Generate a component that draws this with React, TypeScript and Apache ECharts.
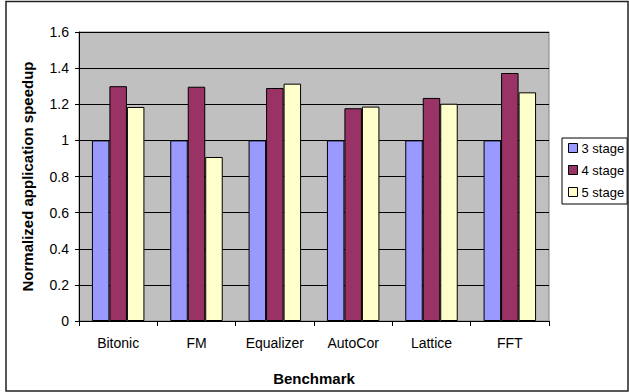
import React, { useEffect, useRef } from "react";
import * as echarts from "echarts";

const benchmarks = ["Bitonic", "FM", "Equalizer", "AutoCor", "Lattice", "FFT"];
const stage3 = [1, 1, 1, 1, 1, 1];
const stage4 = [1.3, 1.297, 1.29, 1.178, 1.235, 1.373];
const stage5 = [1.185, 0.908, 1.314, 1.187, 1.203, 1.266];
const seriesNames = ["3 stage", "4 stage", "5 stage"];
const seriesColors = ["#9999FF", "#993366", "#FFFFCC"];

const FONT = "'Liberation Sans', Arial, sans-serif";

export default function App() {
  const ref = useRef<HTMLDivElement>(null);

  useEffect(() => {
    if (!ref.current) return;
    const chart = echarts.init(ref.current, undefined, { renderer: "svg" });
    const data = [stage3, stage4, stage5];
    chart.setOption({
      animation: false,
      backgroundColor: "#ffffff",
      textStyle: { fontFamily: FONT, color: "#000" },
      grid: {
        left: 79,
        right: 80,
        top: 32,
        bottom: 71,
        show: true,
        backgroundColor: "#C0C0C0",
        borderColor: "#808080",
        borderWidth: 1,
      },
      legend: {
        orient: "vertical",
        left: 562,
        top: 138,
        padding: [3, 3, 5, 6],
        itemWidth: 9,
        itemHeight: 9,
        itemGap: 8,
        backgroundColor: "#ffffff",
        borderColor: "#000000",
        borderWidth: 1,
        borderRadius: 0,
        icon: "rect",
        itemStyle: { borderColor: "#000", borderWidth: 1 },
        textStyle: {
          fontFamily: FONT,
          fontSize: 13,
          color: "#000",
          padding: [0, 0, 0, -1],
          lineHeight: 14,
        },
        data: seriesNames,
      },
      xAxis: {
        type: "category",
        data: benchmarks,
        name: "Benchmark",
        nameLocation: "middle",
        nameGap: 50,
        nameTextStyle: { fontFamily: FONT, fontSize: 15, fontWeight: "bold", color: "#000" },
        axisLine: { show: true, lineStyle: { color: "#000", width: 1 } },
        axisTick: { show: true, length: 5, lineStyle: { color: "#000" } },
        axisLabel: { fontFamily: FONT, fontSize: 14, color: "#000", margin: 15 },
        splitLine: { show: false },
      },
      yAxis: {
        type: "value",
        min: 0,
        max: 1.6,
        interval: 0.2,
        name: "Normalized application speedup",
        nameLocation: "middle",
        nameRotate: 90,
        nameGap: 44,
        nameTextStyle: { fontFamily: FONT, fontSize: 15, fontWeight: "bold", color: "#000" },
        axisLine: { show: true, lineStyle: { color: "#000", width: 1 } },
        axisTick: { show: true, length: 4, lineStyle: { color: "#000" } },
        axisLabel: { fontFamily: FONT, fontSize: 14, color: "#000", margin: 10 },
        splitLine: { show: true, lineStyle: { color: "#000", width: 1 } },
      },
      series: seriesNames.map((name, i) => ({
        name,
        type: "bar",
        data: data[i],
        barGap: "0%",
        barCategoryGap: "33%",
        itemStyle: {
          color: seriesColors[i],
          borderColor: "#000",
          borderWidth: 1,
        },
      })),
      graphic: [
        {
          type: "rect",
          shape: { x: 6, y: 1.5, width: 622, height: 389.5 },
          style: { fill: "none", stroke: "#222", lineWidth: 1.5 },
          silent: true,
          z: 100,
        },
      ],
    });
    return () => chart.dispose();
  }, []);

  return (
    <div
      ref={ref}
      style={{ position: "fixed", left: 0, top: 0, width: 629, height: 392 }}
    />
  );
}
